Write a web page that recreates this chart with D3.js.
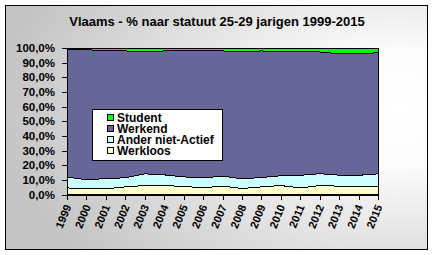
<!DOCTYPE html>
<html>
<head>
<meta charset="utf-8">
<script src="https://cdn.jsdelivr.net/npm/d3@7"></script>
<style>
  html, body { margin: 0; padding: 0; background: #fff; }
  svg { display: block; font-family: Arial, "Liberation Sans", sans-serif; }
</style>
</head>
<body>
<svg id="chart" width="434" height="255"></svg>
<script>
const years = [1999,2000,2001,2002,2003,2004,2005,2006,2007,2008,2009,2010,2011,2012,2013,2014,2015];
const werkloos = [4.5,3.9,3.9,5.2,6.1,6.1,5.5,4.6,5.7,4.1,5.2,6.1,4.5,6.1,5.7,5.7,5.7];
const anderNietActief = [7.5,6.1,7.0,6.2,8.0,7.3,6.5,6.8,6.8,6.6,6.4,6.7,8.6,8.1,7.5,7.4,8.4];
const student = [1.1,1.1,2.0,2.0,2.7,2.0,2.0,2.0,2.0,2.7,2.0,2.7,2.7,2.7,3.9,4.1,3.2];
const werkend = years.map((y, i) => +(100 - werkloos[i] - anderNietActief[i] - student[i]).toFixed(1));
const yTicks = [0,0.1,0.2,0.3,0.4,0.5,0.6,0.7,0.8,0.9,1.0];
const title = "Vlaams - % naar statuut 25-29 jarigen 1999-2015";

const seriesKeys = ["Werkloos","Ander niet-Actief","Werkend","Student"];
const seriesVals = {"Werkloos": werkloos, "Ander niet-Actief": anderNietActief, "Werkend": werkend, "Student": student};
const colors = {"Werkloos":"#ffffcc","Ander niet-Actief":"#ccffff","Werkend":"#666699","Student":"#00ff00"};

const table = years.map((y, i) => {
  const row = {year: y};
  seriesKeys.forEach(k => row[k] = seriesVals[k][i] / 100);
  return row;
});

const svg = d3.select("#chart");
const defs = svg.append("defs");
const grad = defs.append("radialGradient").attr("id","bg")
  .attr("cx","0.93").attr("cy","0.42").attr("r","0.95").attr("fx","0.93").attr("fy","0.42");
grad.append("stop").attr("offset","0").attr("stop-color","#ffffff");
grad.append("stop").attr("offset","0.25").attr("stop-color","#fbfbfb");
grad.append("stop").attr("offset","1").attr("stop-color","#c4c4c4");

svg.append("rect").attr("x",5.5).attr("y",5.5).attr("width",422).attr("height",244)
  .attr("fill","url(#bg)").attr("stroke","#000").attr("stroke-width",1);

svg.append("text").attr("x",217).attr("y",26).attr("text-anchor","middle")
  .attr("font-size",13).attr("font-weight","bold").attr("fill","#000").text(title);

const x = d3.scaleLinear().domain([years[0], years[years.length-1]]).range([67, 378]);
const y = d3.scaleLinear().domain([0,1]).range([194.5, 48]);

const stack = d3.stack().keys(seriesKeys);
const layers = stack(table);

const area = d3.area()
  .x(d => x(d.data.year))
  .y0(d => y(d[0]))
  .y1(d => y(d[1]));

svg.append("g").selectAll("path").data(layers).join("path")
  .attr("d", area)
  .attr("fill", d => colors[d.key])
  .attr("stroke", "#000")
  .attr("stroke-width", 1)
  .attr("shape-rendering","crispEdges");

const fmt = v => d3.format(".1%")(v).replace(".", ",");
const yAxis = svg.append("g").attr("transform","translate(67,0)")
  .call(d3.axisLeft(y).tickValues(yTicks).tickSize(5).tickPadding(7).tickFormat(fmt));
yAxis.selectAll("text").attr("font-size",11.5).attr("font-weight","bold").attr("fill","#000")
  .attr("font-family","Arial, 'Liberation Sans', sans-serif");
yAxis.selectAll("line,path").attr("stroke","#000").attr("shape-rendering","crispEdges");

const xAxis = svg.append("g").attr("transform","translate(0,194.5)")
  .call(d3.axisBottom(x).tickValues(years).tickSize(5).tickFormat(d => String(d)));
xAxis.selectAll("line,path").attr("stroke","#000").attr("shape-rendering","crispEdges");
xAxis.selectAll("text")
  .attr("font-size",11).attr("font-weight","bold").attr("fill","#000")
  .attr("font-family","Arial, 'Liberation Sans', sans-serif")
  .attr("text-anchor","end")
  .attr("y",0).attr("dy",0)
  .attr("transform","translate(4,12) rotate(-68)");

// legend
const lg = svg.append("g");
lg.append("rect").attr("x",92.5).attr("y",109.5).attr("width",130).attr("height",51)
  .attr("fill","#fff").attr("stroke","#000");
const legendKeys = ["Student","Werkend","Ander niet-Actief","Werkloos"];
legendKeys.forEach((k, i) => {
  const yy = 122 + i * 11;
  lg.append("rect").attr("x",107.5).attr("y",yy-7.5).attr("width",6).attr("height",6)
    .attr("fill",colors[k]).attr("stroke","#000");
  lg.append("text").attr("x",117).attr("y",yy).attr("font-size",12).attr("font-weight","bold")
    .attr("fill","#000").text(k);
});
</script>
</body>
</html>
